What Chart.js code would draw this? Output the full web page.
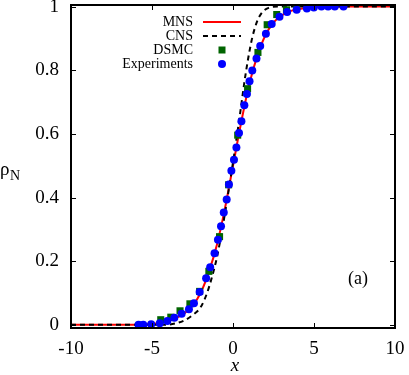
<!DOCTYPE html>
<html>
<head>
<meta charset="utf-8">
<script src="https://cdn.jsdelivr.net/npm/chart.js@4"></script>
<style>
  html, body { margin: 0; padding: 0; background: #fff; }
  #wrap { width: 409px; height: 375px; position: relative; }
</style>
</head>
<body>
<div id="wrap"><canvas id="chart" width="409" height="375"></canvas></div>
<script>
// Data
const mnsX = [-10, -6, -5, -4.5, -4, -3.5, -3, -2.5, -2, -1.5, -1, -0.5, 0, 0.5, 1, 1.5, 2, 2.5, 3, 3.5, 4, 5, 6, 10];
const mnsY = [0, 0, 0.003, 0.006, 0.012, 0.022, 0.036, 0.06, 0.1, 0.165, 0.25, 0.365, 0.5, 0.635, 0.755, 0.845, 0.91, 0.95, 0.972, 0.985, 0.992, 0.998, 1, 1];

const cnsX = [-10, -4.2, -3.5, -3.0, -2.5, -2.0, -1.6, -1.3, -1.0, -0.7, -0.4, -0.2, 0, 0.2, 0.4, 0.6, 0.8, 1.0, 1.2, 1.5, 1.8, 2.2, 2.8, 10];
const cnsY = [0, 0, 0.005, 0.014, 0.03, 0.055, 0.1, 0.15, 0.21, 0.29, 0.38, 0.445, 0.51, 0.58, 0.65, 0.725, 0.795, 0.855, 0.905, 0.955, 0.982, 0.996, 1, 1];

const dsmcX = [-4.46, -3.84, -3.27, -2.66, -2.06, -1.49, -0.83, -0.27, 0.29, 0.90, 1.54, 2.11, 2.70, 3.3, 3.93];
const dsmcY = [0.016, 0.024, 0.044, 0.066, 0.105, 0.168, 0.277, 0.44, 0.596, 0.742, 0.856, 0.943, 0.975, 0.99, 1.0];

const expX = [-5.83, -5.54, -5.05, -4.52, -4.05, -3.62, -3.17, -2.72, -2.41, -2.06, -1.66, -1.41, -1.14, -0.93, -0.74, -0.57, -0.39, -0.25, -0.10, 0.06, 0.21, 0.37, 0.52, 0.70, 0.86, 1.02, 1.19, 1.45, 1.68, 2.03, 2.39, 2.87, 3.34, 3.93, 4.56, 4.99, 5.46, 5.87, 6.28, 6.82];
const expY = [0, 0, 0.002, 0.005, 0.012, 0.022, 0.035, 0.049, 0.068, 0.103, 0.146, 0.181, 0.225, 0.267, 0.310, 0.353, 0.394, 0.441, 0.484, 0.519, 0.557, 0.603, 0.64, 0.69, 0.725, 0.765, 0.799, 0.837, 0.876, 0.915, 0.945, 0.968, 0.983, 0.990, 0.994, 0.997, 1.0, 1.0, 1.0, 1.0];

const xTicks = [-10, -5, 0, 5, 10];
const yTicks = [0, 0.2, 0.4, 0.6, 0.8, 1];

const SERIF = '"Liberation Serif", "DejaVu Serif", serif';

function pts(xs, ys) {
    return xs.map((x, i) => ({ x: x, y: ys[i] }));
}

// keep the plot box where gnuplot put it
function noPad(s) {
    s.paddingTop = 0;
    s.paddingBottom = 0;
    s.paddingLeft = 0;
    s.paddingRight = 0;
}

// frame, inward ticks on all sides, legend and labels (gnuplot look)
const decor = {
    id: 'decor',
    afterDraw(chart) {
        const ctx = chart.ctx;
        const a = chart.chartArea;
        const sx = chart.scales.x, sy = chart.scales.y;
        ctx.save();
        ctx.strokeStyle = '#000';
        ctx.lineWidth = 1;
        ctx.beginPath();
        xTicks.forEach(v => {
            const p = Math.round(sx.getPixelForValue(v)) + 0.5;
            ctx.moveTo(p, a.bottom); ctx.lineTo(p, a.bottom - 5);
            ctx.moveTo(p, a.top); ctx.lineTo(p, a.top + 5);
        });
        yTicks.forEach(v => {
            const p = Math.round(sy.getPixelForValue(v)) + 0.5;
            ctx.moveTo(a.left, p); ctx.lineTo(a.left + 5, p);
            ctx.moveTo(a.right, p); ctx.lineTo(a.right - 5, p);
        });
        ctx.stroke();
        ctx.lineWidth = 2;
        ctx.strokeRect(a.left, a.top, a.right - a.left, a.bottom - a.top);

        // legend
        ctx.font = '14px ' + SERIF;
        ctx.textAlign = 'right';
        ctx.textBaseline = 'middle';
        ctx.fillStyle = '#000';
        const rows = [22, 36, 50, 64];
        chart.data.datasets.forEach((ds, i) => {
            const yy = rows[i];
            ctx.fillText(ds.label, 193, yy);
            if (ds.showLine) {
                ctx.save();
                ctx.strokeStyle = ds.borderColor;
                ctx.lineWidth = ds.borderWidth;
                ctx.setLineDash(ds.borderDash || []);
                ctx.beginPath();
                ctx.moveTo(203, yy); ctx.lineTo(241, yy);
                ctx.stroke();
                ctx.restore();
            } else {
                ctx.fillStyle = ds.backgroundColor;
                if (ds.pointStyle === 'rect') {
                    ctx.fillRect(222 - 3.5, yy - 3.5, 7, 7);
                } else {
                    ctx.beginPath();
                    ctx.arc(222, yy, 4, 0, Math.PI * 2);
                    ctx.fill();
                }
                ctx.fillStyle = '#000';
            }
        });

        // axis titles
        ctx.textAlign = 'left';
        ctx.textBaseline = 'alphabetic';
        ctx.font = '19px ' + SERIF;
        ctx.fillText('\u03C1', 0, 175);
        ctx.font = '14px ' + SERIF;
        ctx.fillText('N', 10, 180);
        ctx.font = 'italic 19px ' + SERIF;
        ctx.textAlign = 'center';
        ctx.fillText('x', 235, 371);
        ctx.font = '18px ' + SERIF;
        ctx.textAlign = 'left';
        ctx.fillText('(a)', 348, 284);
        ctx.restore();
    }
};

const ctx = document.getElementById('chart').getContext('2d');
const chart = new Chart(ctx, {
    type: 'scatter',
    data: {
        datasets: [
            {
                label: 'MNS',
                data: pts(mnsX, mnsY),
                showLine: true,
                borderColor: '#ff0000',
                borderWidth: 2,
                pointRadius: 0,
                cubicInterpolationMode: 'monotone',
                order: 3
            },
            {
                label: 'CNS',
                data: pts(cnsX, cnsY),
                showLine: true,
                borderColor: '#000000',
                borderWidth: 2,
                borderDash: [5, 4],
                pointRadius: 0,
                cubicInterpolationMode: 'monotone',
                order: 2
            },
            {
                label: 'DSMC',
                data: pts(dsmcX, dsmcY),
                showLine: false,
                pointStyle: 'rect',
                pointRadius: 5,
                backgroundColor: '#006400',
                borderWidth: 0,
                order: 1
            },
            {
                label: 'Experiments',
                data: pts(expX, expY),
                showLine: false,
                pointStyle: 'circle',
                pointRadius: 4,
                backgroundColor: '#0000ff',
                borderWidth: 0,
                order: 0
            }
        ]
    },
    options: {
        responsive: false,
        animation: false,
        layout: { padding: { top: 4, right: 14, left: 0, bottom: 0 } },
        plugins: {
            legend: { display: false },
            tooltip: { enabled: false }
        },
        scales: {
            x: {
                type: 'linear',
                min: -10,
                max: 10,
                afterBuildTicks: s => { s.ticks = xTicks.map(v => ({ value: v })); },
                afterFit: s => { s.height = 47; noPad(s); },
                grid: { display: false, drawTicks: false },
                border: { display: false },
                ticks: {
                    color: '#000',
                    padding: 10,
                    maxRotation: 0,
                    font: { family: SERIF, size: 19 }
                }
            },
            y: {
                type: 'linear',
                min: -0.01,
                max: 1.005,
                afterBuildTicks: s => { s.ticks = yTicks.map(v => ({ value: v })); },
                afterFit: s => { s.width = 71; noPad(s); },
                grid: { display: false, drawTicks: false },
                border: { display: false },
                ticks: {
                    color: '#000',
                    padding: 12,
                    font: { family: SERIF, size: 19 },
                    callback: v => String(+v.toFixed(1))
                }
            }
        }
    },
    plugins: [decor]
});
</script>
</body>
</html>
